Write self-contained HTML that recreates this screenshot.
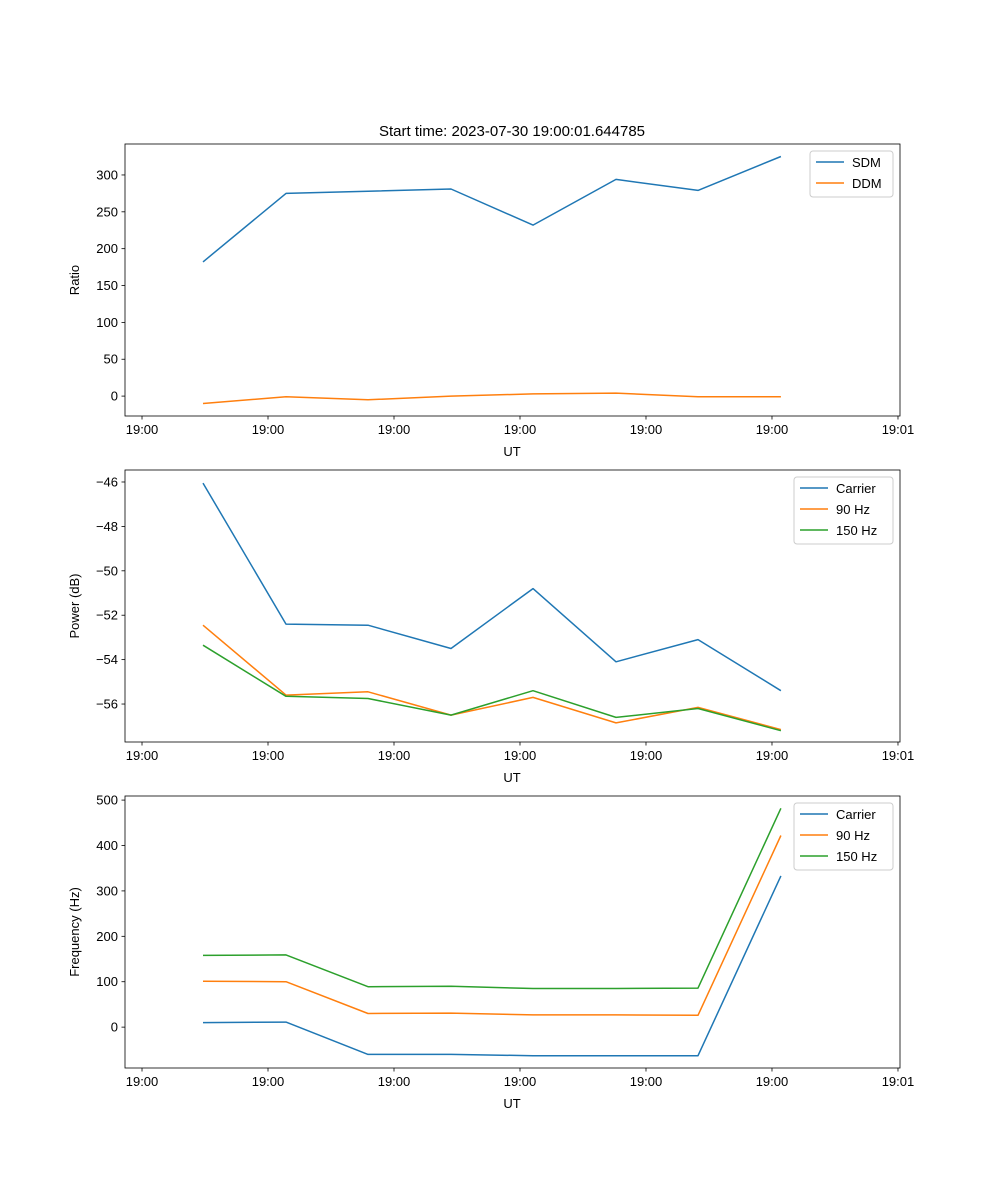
<!DOCTYPE html>
<html><head><meta charset="utf-8"><style>
body{margin:0;background:#fff}
svg{display:block;font-family:"Liberation Sans","DejaVu Sans",sans-serif}
</style></head><body>
<svg id="fig" width="1000" height="1200">
<text x="512" y="136" font-size="15" text-anchor="middle">Start time: 2023-07-30 19:00:01.644785</text>
</svg>
<script>
const times = [4.84, 11.43, 17.94, 24.52, 31.03, 37.62, 44.13, 50.71];
const xTicks = [0, 10, 20, 30, 40, 50, 60];
const xTickLabels = ["19:00","19:00","19:00","19:00","19:00","19:00","19:01"];
const sdm = [182, 275, 278, 281, 232, 294, 279, 325];
const ddm = [-10, -1, -5, 0, 3, 4, -1, -1];
const powCarrier = [-46.05, -52.4, -52.45, -53.5, -50.8, -54.1, -53.1, -55.4];
const pow90 = [-52.45, -55.6, -55.45, -56.5, -55.7, -56.85, -56.15, -57.15];
const pow150 = [-53.35, -55.65, -55.75, -56.5, -55.4, -56.6, -56.2, -57.2];
const freqCarrier = [10, 11, -60, -60, -63, -63, -63, 333];
const freq90 = [101, 100, 30, 31, 27, 27, 26, 422];
const freq150 = [158, 159, 89, 90, 85, 85, 86, 482];
const ticks1 = [0, 50, 100, 150, 200, 250, 300];
const ticks2 = [-56, -54, -52, -50, -48, -46];
const ticks3 = [0, 100, 200, 300, 400, 500];

const NS = "http://www.w3.org/2000/svg";
const svg = document.getElementById("fig");
function el(tag, attrs, parent){const e=document.createElementNS(NS,tag);for(const k in attrs)e.setAttribute(k,attrs[k]);(parent||svg).appendChild(e);return e;}
const L=125,R=900;
const xDom=[-1.35,60.16];
function xs(t){return L+(t-xDom[0])/(xDom[1]-xDom[0])*(R-L);}

function panel(name, top, bottom, yDom, yTicks, yLabel, series, legend){
  const g=el("g",{});
  
  
  const ys=v=>bottom-(v-yDom[0])/(yDom[1]-yDom[0])*(bottom-top);
  // lines
  series.forEach(s=>{
    const p=el("polyline",{points:s.vals.map((v,i)=>xs(times[i]).toFixed(1)+","+ys(v).toFixed(1)).join(" "),fill:"none",stroke:s.color,"stroke-width":1.5,"stroke-linejoin":"round"},g);
    
    
  });
  const fr=el("rect",{x:L,y:top,width:R-L,height:bottom-top,fill:"none",stroke:"#000","stroke-width":0.8},g);
  
  
  xTicks.forEach((t,i)=>{
    const x=xs(t);
    el("line",{x1:x,x2:x,y1:bottom,y2:bottom+3.5,stroke:"#000","stroke-width":0.8},g);
    const tx=el("text",{x:x,y:bottom+18,"font-size":13,"text-anchor":"middle"},g);
    tx.textContent=xTickLabels[i];
    
    
  });
  const xl=el("text",{x:512,y:bottom+40,"font-size":13,"text-anchor":"middle"},g);
  xl.textContent="UT";
  
  
  yTicks.forEach(v=>{
    const y=ys(v);
    el("line",{x1:L-3.5,x2:L,y1:y,y2:y,stroke:"#000","stroke-width":0.8},g);
    const tx=el("text",{x:L-7,y:y+4.5,"font-size":13,"text-anchor":"end"},g);
    tx.textContent=(v<0?"\u2212"+Math.abs(v):String(v));
    
    
  });
  const cy=(top+bottom)/2;
  const yl=el("text",{x:79,y:cy,"font-size":13,"text-anchor":"middle",transform:`rotate(-90 79 ${cy})`},g);
  yl.textContent=yLabel;
  
  
  // legend
  const lg=el("g",{},g);
  
  
  el("rect",{x:legend.x,y:top+7,width:R-7-legend.x,height:series.length*21+4,rx:3,fill:"#fff",stroke:"#ccc","stroke-width":1},lg);
  series.forEach((s,i)=>{
    const y=top+18+i*21;
    el("line",{x1:legend.x+6,x2:legend.x+34,y1:y,y2:y,stroke:s.color,"stroke-width":1.5},lg);
    const t=el("text",{x:legend.x+42,y:y+5,"font-size":13},lg);
    t.textContent=s.label;
    
    
  });
}
panel("ratio-panel",144,416,[-27,342],ticks1,"Ratio",
 [{key:"sdm",label:"SDM",vals:sdm,color:"#1f77b4"},{key:"ddm",label:"DDM",vals:ddm,color:"#ff7f0e"}],{x:810});
panel("power-panel",470,742,[-57.71,-45.46],ticks2,"Power (dB)",
 [{key:"carrier",label:"Carrier",vals:powCarrier,color:"#1f77b4"},{key:"90hz",label:"90 Hz",vals:pow90,color:"#ff7f0e"},{key:"150hz",label:"150 Hz",vals:pow150,color:"#2ca02c"}],{x:794});
panel("frequency-panel",796,1068,[-90,509],ticks3,"Frequency (Hz)",
 [{key:"carrier",label:"Carrier",vals:freqCarrier,color:"#1f77b4"},{key:"90hz",label:"90 Hz",vals:freq90,color:"#ff7f0e"},{key:"150hz",label:"150 Hz",vals:freq150,color:"#2ca02c"}],{x:794});
</script>
</body></html>
